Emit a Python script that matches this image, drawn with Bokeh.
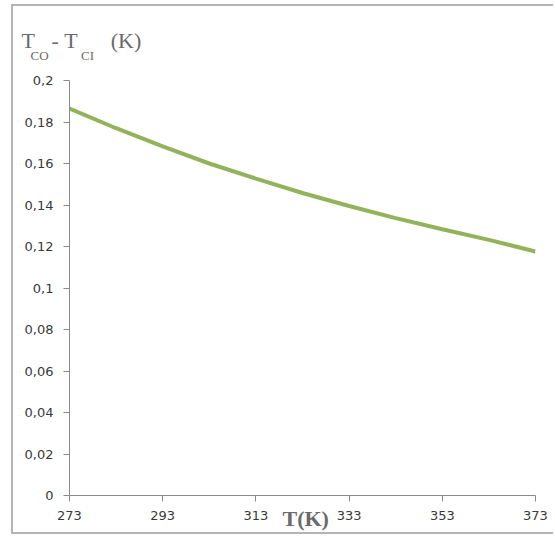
from bokeh.plotting import figure
from bokeh.models import FixedTicker, Range1d, Label
from bokeh.embed import file_html
from bokeh.resources import INLINE

# Temperature difference between outlet and inlet vs. temperature
temperature_k = [273, 283, 293, 303, 313, 323, 333, 343, 353, 363, 373]
delta_t_k = [0.1865, 0.1770, 0.1682, 0.1600, 0.1527, 0.1458, 0.1395, 0.1337, 0.1283, 0.1232, 0.1176]

x_ticks = [273, 293, 313, 333, 353, 373]
y_ticks = [0, 0.02, 0.04, 0.06, 0.08, 0.1, 0.12, 0.14, 0.16, 0.18, 0.2]
y_tick_labels = ["0", "0,02", "0,04", "0,06", "0,08", "0,1", "0,12", "0,14", "0,16", "0,18", "0,2"]

# page geometry (pixels)
OX, OY = 11, 4          # where the framed chart box starts
BORDER = 2
FRAME_L, FRAME_R, FRAME_T, FRAME_B = 69, 535, 80, 495
CANVAS_R, CANVAS_B = 555, 536
XMIN, XMAX, YMIN, YMAX = 273, 373, 0.0, 0.2

canvas_x0 = OX + BORDER
canvas_y0 = OY + BORDER


def px_x(px):
    return XMIN + (px - FRAME_L) * (XMAX - XMIN) / (FRAME_R - FRAME_L)


def px_y(py):
    return YMIN + (FRAME_B - py) * (YMAX - YMIN) / (FRAME_B - FRAME_T)


p = figure(width=CANVAS_R - canvas_x0, height=CANVAS_B - canvas_y0,
           output_backend="svg", toolbar_location=None,
           x_range=Range1d(XMIN, XMAX), y_range=Range1d(YMIN, YMAX),
           min_border_left=FRAME_L - canvas_x0, min_border_right=CANVAS_R - FRAME_R,
           min_border_top=FRAME_T - canvas_y0, min_border_bottom=CANVAS_B - FRAME_B)
p.margin = (OY, 0, 0, OX)
p.styles = {
    "border-width": f"{BORDER}px",
    "border-style": "solid none solid solid",
    "border-color": "#b4b4b4",
}
p.background_fill_color = "white"
p.border_fill_color = "white"
p.outline_line_color = None
p.xgrid.visible = False
p.ygrid.visible = False

axis_color = "#8a8a8a"
for ax in (p.xaxis[0], p.yaxis[0]):
    ax.axis_line_color = axis_color
    ax.major_tick_line_color = axis_color
    ax.minor_tick_line_color = None
    ax.major_tick_in = 0
    ax.major_tick_out = 6
    ax.major_label_text_font = "DejaVu Sans"
    ax.major_label_text_font_size = "13px"
    ax.major_label_text_color = "#3a3a3a"

p.xaxis.ticker = FixedTicker(ticks=x_ticks)
p.xaxis.major_label_standoff = 9
p.yaxis.ticker = FixedTicker(ticks=y_ticks)
p.yaxis.major_label_overrides = {t: s for t, s in zip(y_ticks, y_tick_labels)}
p.yaxis.major_label_standoff = 10

p.line(temperature_k, delta_t_k, line_color="#93b35a", line_width=4)

NB = "\u00a0"
title_color = "#6a6a6a"


def add_text(px, py, text, size, bold=False):
    p.add_layout(Label(x=px_x(px), y=px_y(py), text=text, text_font="Liberation Serif",
                       text_font_size=f"{size}px", text_color=title_color,
                       text_font_style="bold" if bold else "normal",
                       text_align="left", text_baseline="middle"), "above")


# quantity on the y axis: T_CO - T_CI (K), main characters and subscripts
add_text(21, 40, "T" + NB * 3 + "-" + NB + "T" + NB * 6 + "(K)", 22)
add_text(30, 55, "CO" + NB * 10 + "CI", 13)
# quantity on the x axis
add_text(282, 518, "T(K)", 22, bold=True)

open("out.html", "w").write(file_html(p, INLINE))
